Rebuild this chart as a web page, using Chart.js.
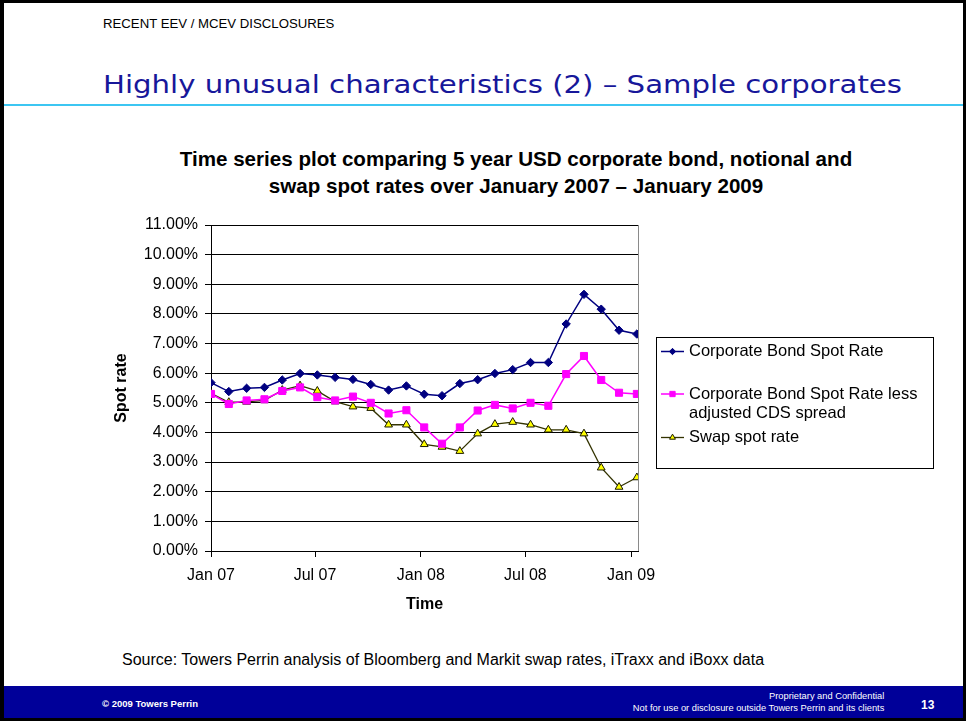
<!DOCTYPE html>
<html>
<head>
<meta charset="utf-8">
<script src="https://cdn.jsdelivr.net/npm/chart.js@4/dist/chart.umd.min.js"></script>
<style>
  html, body { margin:0; padding:0; background:#fff; }
  body { width:966px; height:721px; position:relative; overflow:hidden; font-family:"Liberation Sans", Arial, sans-serif; }
  .t { position:absolute; white-space:nowrap; line-height:1; }
  #frame { position:absolute; left:0; top:0; width:966px; height:721px; box-sizing:border-box;
           border:3px solid #000; border-left-width:4px; z-index:20; pointer-events:none; }
  #rule { position:absolute; left:0; top:104px; width:966px; height:2px; background:#3cc6f2; }
  #footer { position:absolute; left:0; top:686px; width:966px; height:35px; background:#000099; }
  #title { font-family:"DejaVu Sans", Verdana, sans-serif; font-size:24px; color:#17179a; left:103px; top:73px; display:inline-block; transform-origin:0 0; }
  .ct { font-weight:bold; font-size:20.6px; color:#000; left:116px; width:800px; text-align:center; }
  canvas { position:absolute; left:0; top:0; }
</style>
</head>
<body>
<div id="rule"></div>
<div id="footer"></div>
<div class="t" style="left:103px; top:17.3px; font-size:13.2px; color:#000;">RECENT EEV / MCEV DISCLOSURES</div>
<div class="t" id="title">Highly unusual characteristics (2) – Sample corporates</div>
<div class="t ct" style="top:149.3px;">Time series plot comparing 5 year USD corporate bond, notional and</div>
<div class="t ct" style="top:176px;">swap spot rates over January 2007 – January 2009</div>
<div class="t" style="left:122px; top:652.4px; font-size:16px; color:#000;">Source: Towers Perrin analysis of Bloomberg and Markit swap rates, iTraxx and iBoxx data</div>
<div class="t" style="left:102px; top:699.3px; font-size:9.5px; font-weight:bold; color:#fff;">© 2009 Towers Perrin</div>
<div class="t" style="right:81.7px; top:692.1px; font-size:9.3px; color:#fff; text-align:right;">Proprietary and Confidential</div>
<div class="t" style="right:81.7px; top:704.1px; font-size:9.3px; color:#fff; text-align:right;">Not for use or disclosure outside Towers Perrin and its clients</div>
<div class="t" style="left:921px; top:699.1px; font-size:12px; font-weight:bold; color:#fff;">13</div>
<canvas id="c" width="966" height="721"></canvas>
<div id="frame"></div>
<script>
// ---- data ----
const dates = ['2007-01-01','2007-02-01','2007-03-04','2007-04-04','2007-05-05','2007-06-05','2007-07-05',
  '2007-08-05','2007-09-05','2007-10-06','2007-11-06','2007-12-07','2008-01-07','2008-02-07','2008-03-09',
  '2008-04-09','2008-05-09','2008-06-09','2008-07-10','2008-08-10','2008-09-10','2008-10-11','2008-11-10',
  '2008-12-11','2009-01-11'];
const corporateBondSpot = [5.68,5.38,5.49,5.52,5.77,5.99,5.94,5.86,5.79,5.62,5.43,5.57,5.29,5.24,5.65,5.78,5.99,6.12,6.36,6.36,7.66,8.66,8.16,7.45,7.32];
const lessAdjustedCds  = [5.30,4.96,5.08,5.12,5.40,5.52,5.19,5.08,5.21,5.00,4.64,4.75,4.17,3.62,4.17,4.74,4.93,4.81,5.00,4.90,5.97,6.58,5.77,5.34,5.30];
const swapSpot         = [5.32,5.02,5.03,5.08,5.43,5.58,5.40,5.04,4.87,4.82,4.26,4.26,3.60,3.51,3.37,3.96,4.28,4.35,4.26,4.09,4.09,3.96,2.81,2.16,2.48];
const seriesNames = ['Corporate Bond Spot Rate','Corporate Bond Spot Rate less adjusted CDS spread','Swap spot rate'];
const xTickDates = ['2007-01-01','2007-07-01','2008-01-01','2008-07-01','2009-01-01'];
const xTickLabels = ['Jan 07','Jul 07','Jan 08','Jul 08','Jan 09'];
const yMin = 0, yMax = 11, yStep = 1;

// ---- helpers ----
const DAY = 86400000;
const origin = Date.UTC(2007,0,1);
const toDay = s => { const [y,m,d] = s.split('-').map(Number); return Math.round((Date.UTC(y,m-1,d) - origin)/DAY); };
const xDays = dates.map(toDay);
const xTickDays = xTickDates.map(toDay);
const pts = arr => arr.map((v,i) => ({x:xDays[i], y:v}));
const FONT = '"Liberation Sans", Arial, sans-serif';

// fit title width
(function(){
  const t = document.getElementById('title');
  const w = t.getBoundingClientRect().width;
  t.style.transform = 'scaleX(' + (799 / w) + ')';
})();

const plotEdge = {
  id:'plotEdge',
  beforeDatasetsDraw(chart){
    const {ctx, chartArea:a} = chart;
    ctx.save();
    ctx.strokeStyle = '#8a8a8a'; ctx.lineWidth = 1;
    ctx.beginPath(); ctx.moveTo(Math.round(a.right)+0.5, a.top); ctx.lineTo(Math.round(a.right)+0.5, a.bottom); ctx.stroke();
    ctx.restore();
  }
};

function wrapText(ctx, text, maxW){
  const words = text.split(' '); const lines = []; let cur = '';
  words.forEach(w => {
    const test = cur ? cur + ' ' + w : w;
    if (ctx.measureText(test).width > maxW && cur) { lines.push(cur); cur = w; } else cur = test;
  });
  if (cur) lines.push(cur);
  return lines;
}

const boxLegend = {
  id:'boxLegend',
  afterDraw(chart){
    const ctx = chart.ctx;
    ctx.save();
    ctx.strokeStyle = '#000'; ctx.lineWidth = 1;
    ctx.strokeRect(656.5, 337.5, 277, 131);
    ctx.font = '16.5px ' + FONT;
    ctx.textBaseline = 'middle'; ctx.textAlign = 'left';
    const rows = [351.5, 394, 437.5];
    chart.data.datasets.forEach((ds, i) => {
      const y = rows[i];
      ctx.strokeStyle = ds.borderColor; ctx.lineWidth = ds.borderWidth;
      ctx.beginPath(); ctx.moveTo(661, y); ctx.lineTo(684, y); ctx.stroke();
      ctx.fillStyle = ds.pointBackgroundColor; ctx.strokeStyle = ds.pointBorderColor; ctx.lineWidth = 1;
      Chart.helpers.drawPoint(ctx, {pointStyle: ds.pointStyle, radius: ds.pointRadius * 0.75, borderWidth: 1, rotation: 0}, 672.5, y);
      ctx.fillStyle = '#000';
      wrapText(ctx, ds.label, 242).forEach((line, j) => ctx.fillText(line, 689, y + j * 19));
    });
    ctx.restore();
  }
};

new Chart(document.getElementById('c'), {
  type:'line',
  data:{
    datasets:[
      { label:seriesNames[0], data:pts(corporateBondSpot), borderColor:'#000080', borderWidth:1.5,
        pointStyle:'rectRot', pointRadius:4.2, pointBackgroundColor:'#000080', pointBorderColor:'#000080', pointBorderWidth:1 },
      { label:seriesNames[1], data:pts(lessAdjustedCds), borderColor:'#ff00ff', borderWidth:1.5,
        pointStyle:'rect', pointRadius:5, pointBackgroundColor:'#ff00ff', pointBorderColor:'#ff00ff', pointBorderWidth:1 },
      { label:seriesNames[2], data:pts(swapSpot), borderColor:'#333300', borderWidth:1.3,
        pointStyle:'triangle', pointRadius:4.5, pointBackgroundColor:'#ffff00', pointBorderColor:'#1a1a00', pointBorderWidth:1 }
    ]
  },
  options:{
    responsive:false, animation:false, devicePixelRatio:1,
    layout:{ padding:{ left:112, right:328, top:225, bottom:100 } },
    plugins:{ legend:{display:false}, tooltip:{enabled:false}, title:{display:false} },
    elements:{ line:{ tension:0 } },
    scales:{
      x:{
        type:'linear', min:0, max:743,
        afterFit: s => { s.height = 70; },
        afterBuildTicks: s => { s.ticks = xTickDays.map(v => ({value:v})); },
        ticks:{ autoSkip:false, maxRotation:0, padding:9, color:'#000', font:{family:FONT, size:16},
                callback:(v, i) => xTickLabels[i] },
        grid:{ drawOnChartArea:false, drawTicks:true, tickLength:6, color:'#000', lineWidth:1 },
        border:{ color:'#000', width:1 },
        title:{ display:true, text:'Time', color:'#000', font:{family:FONT, size:16, weight:'bold'}, padding:{top:0, bottom:7} }
      },
      y:{
        min:yMin, max:yMax,
        afterFit: s => { s.width = 99; },
        ticks:{ stepSize:yStep, padding:7, color:'#000', font:{family:FONT, size:16},
                callback: v => v.toFixed(2) + '%' },
        grid:{ color:'#000', lineWidth:1, drawTicks:true, tickLength:6 },
        border:{ color:'#000', width:1 },
        title:{ display:true, text:'Spot rate', color:'#000', font:{family:FONT, size:16, weight:'bold'}, padding:{top:0, bottom:0} }
      }
    }
  },
  plugins:[plotEdge, boxLegend]
});
</script>
</body>
</html>
